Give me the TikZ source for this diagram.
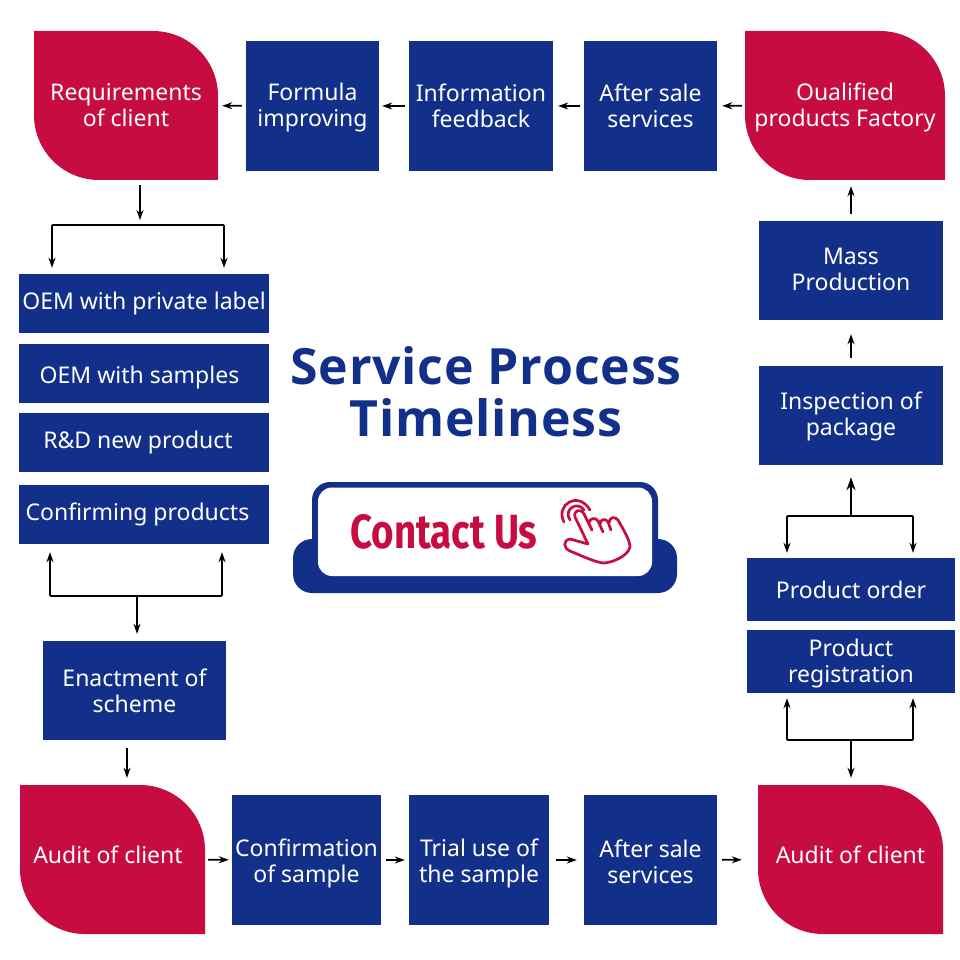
\documentclass[tikz,border=0pt]{standalone}
\usepackage{fontspec}
\usepackage{xcolor}
\usepackage{tikz}
\usetikzlibrary{calc, positioning, arrows.meta}
\setmainfont{Noto Sans}
\newfontfamily\titlefont[LetterSpace=1.6]{Open Sans}
\newfontfamily\contactfont[FakeStretch=0.8]{Fira Sans}
\definecolor{processBlue}{HTML}{12308A}
\definecolor{clientRed}{HTML}{C60C40}
\newcommand{\sinkby}[1]{\rule{0pt}{#1}}
\tikzset{
  box/.style    = {fill=processBlue, text=white, align=center, inner sep=0pt,
                   font=\fontsize{23}{26}\selectfont},
  leaf/.style   = {text=white, align=center, inner sep=0pt,
                   font=\fontsize{23}{26}\selectfont,
                   path picture={\fill[clientRed]
                     (path picture bounding box.north west)
                     -- ([xshift=-65pt]path picture bounding box.north east)
                     arc[start angle=90, end angle=0, radius=65pt]
                     -- (path picture bounding box.south east)
                     -- ([xshift=65pt]path picture bounding box.south west)
                     arc[start angle=270, end angle=180, radius=65pt]
                     -- cycle;}},
  sink/.style   = {execute at begin node={\rule{0pt}{#1}}},
  lift/.style   = {execute at end node={\rule[-#1]{0pt}{#1}}},
  slide/.style  = {execute at begin node={\hspace*{-#1}}},
  fl/.style     = {-{Stealth[length=10pt, width=7pt]}, draw=black, line width=1.7pt},
  flw/.style    = {-{Stealth[length=13pt, width=9pt]}, draw=black, line width=2.3pt},
  ln/.style     = {draw=black, line width=1.9pt},
  title/.style  = {text=processBlue, align=center, inner sep=0pt,
                   font=\fontsize{50}{52}\selectfont\titlefont\bfseries}
}

\begin{document}
\begin{tikzpicture}[x=1pt, y=-1pt]
  \useasboundingbox (0,0) rectangle (960,960);

  % top row
  \node[leaf, minimum width=184pt, minimum height=149pt] (req) at (126,105.5) {Requirements\\of client};
  \node[box, minimum width=133pt, minimum height=130pt] (formula) at (312.5,106) {\sinkby{21pt}Formula\\improving};
  \node[box, minimum width=144pt, minimum height=130pt] (info) at (481,106) {Information\\feedback};
  \node[box, minimum width=133pt, minimum height=130pt] (saleA) at (650.5,106) {After sale\\services};
  \node[leaf, minimum width=200pt, minimum height=149pt] (qual) at (845,105.5) {\sinkby{21pt}Oualified\\products Factory};

  % left column
  \node[box, minimum width=250pt, minimum height=59pt] (oemA) at (144,303.5) {OEM with private label};
  \node[box, sink=25pt, slide=9pt, minimum width=250pt, minimum height=59pt] (oemB) at (144,373.5) {OEM with samples};
  \node[box, slide=12pt, minimum width=250pt, minimum height=59pt] (rnd) at (144,442.5) {R\&D new product};
  \node[box, slide=13pt, minimum width=250pt, minimum height=59pt] (confirm) at (144,514.5) {Confirming products};
  \node[box, minimum width=183pt, minimum height=99pt] (scheme) at (134.5,690.5) {Enactment of\\scheme};

  % right column
  \node[box, lift=3pt, minimum width=184pt, minimum height=99pt] (mass) at (851,270.5) {Mass\\Production};
  \node[box, minimum width=184pt, minimum height=99pt] (inspect) at (851,415.5) {\sinkby{20pt}Inspection of\\package};
  \node[box, minimum width=208pt, minimum height=63pt] (order) at (851,589.5) {Product order};
  \node[box, minimum width=208pt, minimum height=63pt] (regist) at (851,661.5) {\sinkby{21pt}Product\\registration};

  % bottom row
  \node[leaf, lift=10pt, slide=9pt, minimum width=185pt, minimum height=149pt] (auditL) at (112.5,859.5) {Audit of client};
  \node[box, minimum width=149pt, minimum height=130pt] (sample) at (306.5,860) {\sinkby{25pt}Confirmation\\of sample};
  \node[box, minimum width=140pt, minimum height=130pt] (trial) at (479,860) {\sinkby{25pt}Trial use of\\the sample};
  \node[box, minimum width=133pt, minimum height=130pt] (saleB) at (650.5,860) {\sinkby{21pt}After sale\\services};
  \node[leaf, lift=10pt, minimum width=185pt, minimum height=149pt] (auditR) at (850.5,859.5) {Audit of client};

  % centre
  \node[title] (head) at (486,392) {Service Process\\Timeliness};
  \fill[processBlue, rounded corners=19pt] (293,539) rectangle (677,593);
  \fill[processBlue, rounded corners=18pt] (312,482) rectangle (658,590);
  \fill[white, rounded corners=14pt] (318,487.5) rectangle (652,576);
  \node[inner sep=0pt, text=clientRed, font=\fontsize{48}{52}\selectfont\contactfont\bfseries] (contact) at (444,532) {Contact Us};

  % hand
  \begin{scope}[draw=clientRed, line width=2.7pt, line cap=round, line join=round]
    \draw (564,522) .. controls (555,505) and (578,490) .. (590,510);
    \draw (570,520) .. controls (563,510) and (577,500) .. (584,510);
    \draw (588,544) -- (575,517) .. controls (573,510) and (581,508) .. (584,514) -- (592,530)
       (589,523) .. controls (589,518) and (596,517) .. (598,521) -- (603,532)
       (600,524) .. controls (600,519) and (606,518) .. (608,522) -- (611,530)
       (609,523) .. controls (609,517) and (615,516) .. (618,520)
       .. controls (623,529) and (630,540) .. (630,547)
       .. controls (628,556) and (612,563) .. (603,563)
       .. controls (595,562) and (582,556) .. (570,551)
       .. controls (563,548) and (563,540) .. (570,539) -- (588,544);
  \end{scope}

  % junctions
  \coordinate (topJoin) at (140,225);
  \coordinate (topL) at (52,225);
  \coordinate (topR) at (224,225);
  \coordinate (lowJoin) at (137,596);
  \coordinate (lowL) at (50,596);
  \coordinate (lowR) at (222,596);
  \coordinate (upJoin) at (851,516);
  \coordinate (upL) at (787,516);
  \coordinate (upR) at (913,516);
  \coordinate (dnJoin) at (851,740);
  \coordinate (dnL) at (787,740);
  \coordinate (dnR) at (913,740);

  % top row arrows
  \draw[fl, shorten >=4pt, shorten <=4pt] (formula) -- (req);
  \draw[fl, shorten >=3pt, shorten <=4pt] (info) -- (formula);
  \draw[fl, shorten >=5pt, shorten <=4pt] (saleA) -- (info);
  \draw[fl, shorten >=5pt, shorten <=3pt] (qual) -- (saleA);

  % bottom row arrows
  \draw[fl, shorten >=3pt, shorten <=3pt] (auditL) -- (sample);
  \draw[fl, shorten >=4pt, shorten <=5pt] (sample) -- (trial);
  \draw[fl, shorten >=7pt, shorten <=7pt] (trial) -- (saleB);
  \draw[fl, shorten >=16pt, shorten <=5pt] (saleB) -- (auditR);

  % left column arrows
  \draw[fl, shorten <=5pt, shorten >=5pt] (req.south -| topJoin) -- (topJoin);
  \draw[ln] (topL) -- (topR);
  \draw[fl, shorten >=6pt] (topL) -- (topL |- oemA.north);
  \draw[fl, shorten >=6pt] (topR) -- (topR |- oemA.north);
  \draw[ln] (lowL) -- (lowR);
  \draw[fl, shorten >=8pt] (lowL) -- (lowL |- confirm.south);
  \draw[fl, shorten >=8pt] (lowR) -- (lowR |- confirm.south);
  \draw[fl, shorten >=7pt] (lowJoin) -- (lowJoin |- scheme.north);
  \coordinate (outJoin) at (127,740);
  \draw[fl, shorten <=8pt, shorten >=7pt] (outJoin) -- (outJoin |- auditL.north);

  % right column arrows
  \draw[ln] (dnL) -- (dnR);
  \draw[fl, shorten >=7pt] (dnJoin) -- (dnJoin |- auditR.north);
  \draw[fl, shorten >=5pt] (dnL) -- (dnL |- regist.south);
  \draw[fl, shorten >=5pt] (dnR) -- (dnR |- regist.south);
  \draw[ln] (upL) -- (upR);
  \draw[fl, shorten >=5pt] (upL) -- (upL |- order.north);
  \draw[fl, shorten >=5pt] (upR) -- (upR |- order.north);
  \draw[flw, shorten >=12pt] (upJoin) -- (upJoin |- inspect.south);
  \draw[fl, shorten <=8pt, shorten >=14pt] (inspect.north) -- (mass.south);
  \draw[fl, shorten <=7pt, shorten >=6pt] (mass.north) -- (qual.south -| mass.north);
\end{tikzpicture}
\end{document}
